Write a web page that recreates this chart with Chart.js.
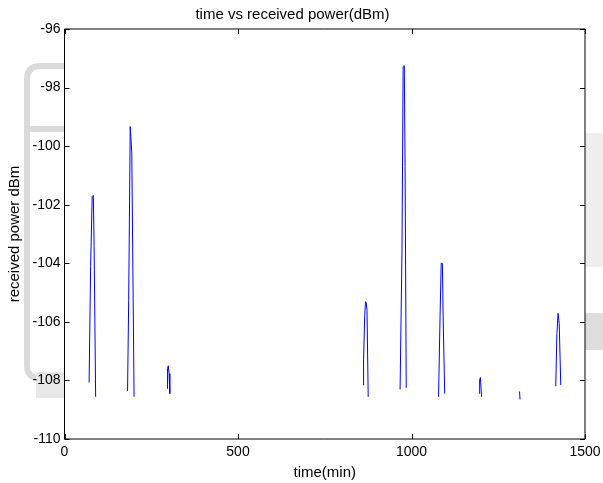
<!DOCTYPE html>
<html lang="en">
<head>
  <meta charset="UTF-8" />
  <title>time vs received power(dBm)</title>
  <script src="https://cdn.jsdelivr.net/npm/chart.js"></script>
  <style>
    html, body { margin: 0; padding: 0; background: #fff; }
    canvas { display: block; }
  </style>
</head>
<body>
  <canvas id="powerChart" width="603" height="483"></canvas>

  <script>
    // time (min) and received power (dBm); null marks a gap between bursts
    const timeMin = [
      70.9, 75.3, 79.8, 83.1, 85.3, 89.7, null,
      181.7, 185.0, 189.4, 193.9, 200.5, null,
      295.8, 296.9, 299.1, 301.3, 303.5, null,
      860.8, 861.9, 865.2, 867.5, 869.5, 871.8, 875.2, null,
      967.1, 972.6, 975.9, 979.2, 981.5, 984.8, null,
      1077.9, 1082.3, 1085.6, 1089.0, 1091.2, 1095.6, null,
      1195.3, 1196.4, 1198.6, 1202.0, null,
      1309.4, 1311.5, 1312.7, null,
      1415.7, 1419.0, 1422.4, 1425.7, 1430.2
    ];
    const powerDbm = [
      -108.07, -104.1, -101.72, -101.68, -103.4, -108.56, null,
      -108.36, -105.26, -99.33, -100.24, -108.56, null,
      -108.28, -107.6, -107.5, -107.77, -108.45, null,
      -108.16, -107.3, -105.77, -105.31, -105.35, -105.6, -108.56, null,
      -108.31, -103.55, -97.28, -97.25, -100.7, -108.25, null,
      -108.56, -105.83, -104.0, -104.0, -105.83, -108.45, null,
      -108.45, -107.99, -107.9, -108.56, null,
      -108.39, -108.39, -108.65, null,
      -108.2, -106.4, -105.71, -106.06, -108.16
    ];
    const xTicks = [0, 500, 1000, 1500];
    const yTicks = [-110, -108, -106, -104, -102, -100, -98, -96];

    const puntos = timeMin.map((t, i) => ({
      x: t === null ? timeMin[i - 1] : t,
      y: powerDbm[i]
    }));

    // faint grey scan marks behind the figure
    const fondo = {
      id: 'fondo',
      beforeDraw(chart) {
        const ctx = chart.ctx;
        ctx.save();
        ctx.strokeStyle = '#dadada';
        ctx.lineWidth = 6;
        ctx.beginPath();
        ctx.moveTo(64, 66);
        ctx.lineTo(40, 66);
        ctx.quadraticCurveTo(27, 66, 27, 80);
        ctx.lineTo(27, 366);
        ctx.quadraticCurveTo(27, 378, 40, 378);
        ctx.lineTo(64, 378);
        ctx.moveTo(27, 128);
        ctx.quadraticCurveTo(27, 129, 40, 129);
        ctx.lineTo(64, 129);
        ctx.stroke();
        ctx.fillStyle = '#e8e8e8';
        ctx.fillRect(36, 372, 28, 26);
        ctx.fillStyle = '#eeeeee';
        ctx.fillRect(585, 133, 18, 134);
        ctx.fillStyle = '#dddddd';
        ctx.fillRect(585, 313, 18, 37);
        ctx.restore();
      }
    };

    // MATLAB style box with inward ticks
    const caja = {
      id: 'caja',
      afterDraw(chart) {
        const { ctx, chartArea: a, scales } = chart;
        const largo = 5;
        ctx.save();
        ctx.strokeStyle = '#000';
        ctx.lineWidth = 1;
        ctx.beginPath();
        ctx.rect(a.left, a.top, a.right - a.left, a.bottom - a.top);
        xTicks.forEach(v => {
          const px = Math.round(scales.x.getPixelForValue(v)) + 0.5;
          ctx.moveTo(px, a.bottom); ctx.lineTo(px, a.bottom - largo);
          ctx.moveTo(px, a.top); ctx.lineTo(px, a.top + largo);
        });
        yTicks.forEach(v => {
          const py = Math.round(scales.y.getPixelForValue(v)) + 0.5;
          ctx.moveTo(a.left, py); ctx.lineTo(a.left + largo, py);
          ctx.moveTo(a.right, py); ctx.lineTo(a.right - largo, py);
        });
        ctx.stroke();
        ctx.restore();
      }
    };

    const fuente = 'Arial, "Liberation Sans", sans-serif';

    new Chart(document.getElementById('powerChart'), {
      type: 'line',
      data: {
        datasets: [{
          data: puntos,
          borderColor: '#0000ff',
          borderWidth: 1,
          pointRadius: 0,
          tension: 0,
          spanGaps: false,
          fill: false
        }]
      },
      options: {
        responsive: false,
        animation: false,
        layout: { padding: { left: 0, right: 18, top: 0, bottom: 0 } },
        plugins: {
          legend: { display: false },
          tooltip: { enabled: false },
          title: {
            display: true,
            text: 'time vs received power(dBm)',
            color: '#000',
            font: { family: fuente, size: 15, weight: 'normal' },
            padding: { top: 5.5, bottom: 5.5 }
          }
        },
        scales: {
          x: {
            type: 'linear',
            min: 0,
            max: 1500,
            afterBuildTicks: s => { s.ticks = xTicks.map(v => ({ value: v })); },
            afterFit: s => { s.height = 44; s.paddingLeft = 0; s.paddingRight = 0; },
            grid: { display: false, drawTicks: false },
            border: { display: false },
            ticks: {
              color: '#000', padding: 5, maxRotation: 0, autoSkip: false,
              font: { family: fuente, size: 14 },
              callback: v => String(v)
            },
            title: {
              display: true,
              text: 'time(min)',
              color: '#000',
              font: { family: fuente, size: 15 },
              padding: { top: 0, bottom: 1.6 }
            }
          },
          y: {
            type: 'linear',
            min: -110,
            max: -96,
            afterBuildTicks: s => { s.ticks = yTicks.map(v => ({ value: v })); },
            afterFit: s => { s.width = 64.5; s.paddingTop = 0; s.paddingBottom = 0; },
            grid: { display: false, drawTicks: false },
            border: { display: false },
            ticks: {
              color: '#000', padding: 4, autoSkip: false,
              font: { family: fuente, size: 14 },
              callback: v => String(v)
            },
            title: {
              display: true,
              text: 'received power dBm',
              color: '#000',
              font: { family: fuente, size: 15 },
              padding: { top: 6, bottom: 0 }
            }
          }
        }
      },
      plugins: [fondo, caja]
    });
  </script>
</body>
</html>
